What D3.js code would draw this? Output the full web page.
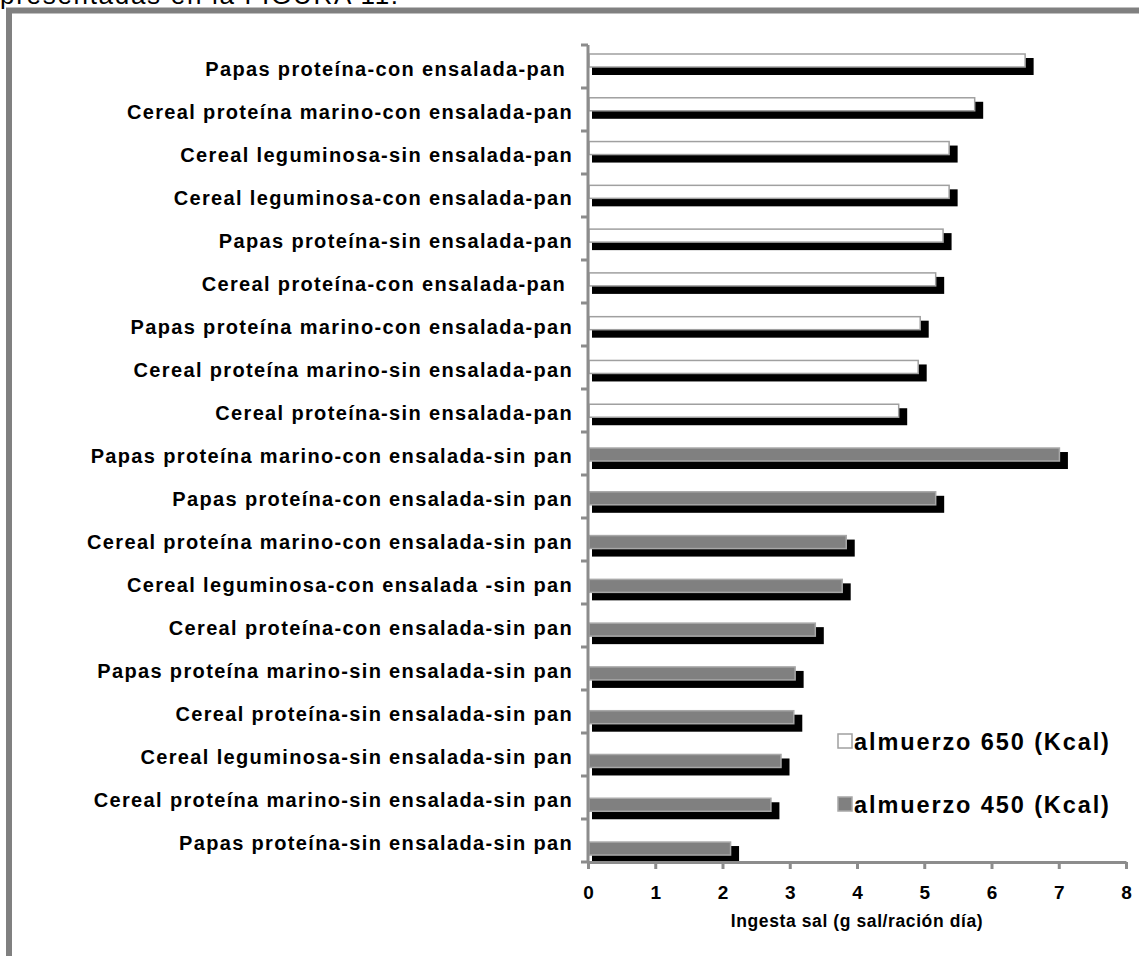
<!DOCTYPE html>
<html><head><meta charset="utf-8">
<script src="https://cdn.jsdelivr.net/npm/d3@7"></script>
<style>
html,body{margin:0;padding:0;background:#fff;overflow:hidden}
svg{display:block;font-family:"Liberation Sans",Arial,sans-serif}
</style></head><body>
<svg id="chart" width="1139" height="956"></svg>
<script>
// Lunch menus, top to bottom
const categories = [
  "Papas proteína-con ensalada-pan ",
  "Cereal proteína marino-con ensalada-pan",
  "Cereal leguminosa-sin ensalada-pan",
  "Cereal leguminosa-con ensalada-pan",
  "Papas proteína-sin ensalada-pan",
  "Cereal proteína-con ensalada-pan ",
  "Papas proteína marino-con ensalada-pan",
  "Cereal proteína marino-sin ensalada-pan",
  "Cereal proteína-sin ensalada-pan",
  "Papas proteína marino-con ensalada-sin pan",
  "Papas proteína-con ensalada-sin pan",
  "Cereal proteína marino-con ensalada-sin pan",
  "Cereal leguminosa-con ensalada -sin pan",
  "Cereal proteína-con ensalada-sin pan",
  "Papas proteína marino-sin ensalada-sin pan",
  "Cereal proteína-sin ensalada-sin pan",
  "Cereal leguminosa-sin ensalada-sin pan",
  "Cereal proteína marino-sin ensalada-sin pan",
  "Papas proteína-sin ensalada-sin pan"
];
// Energy of each lunch (kcal)
const lunchKcal = [650,650,650,650,650,650,650,650,650,450,450,450,450,450,450,450,450,450,450];
// Salt intake, g salt per daily ration
const saltIntake = [6.50,5.75,5.37,5.37,5.28,5.17,4.94,4.91,4.62,7.01,5.17,3.84,3.78,3.38,3.08,3.06,2.87,2.72,2.12];
const xTicks = [0,1,2,3,4,5,6,7,8];
const seriesKcal = [650, 450];
const seriesNames = ["almuerzo 650 (Kcal)", "almuerzo 450 (Kcal)"];
const axisTitle = "Ingesta sal (g sal/ración día)";
const caption = "presentadas en la FIGURA 11.";

const svg = d3.select("#chart");
const axisGray = "#8c8c8c";
const fillFor = {650: "#ffffff", 450: "#808080"};
const strokeFor = {650: "#a0a0a0", 450: "#a8a8a8"};

// page text above the figure frame (cut by the top edge)
svg.append("text").attr("x", 0).attr("y", 4)
  .attr("font-size", 26).attr("letter-spacing", 1.7).attr("fill", "#000").text(caption);

// figure frame
svg.append("path")
  .attr("d", "M9,956 L9,10.5 L1139,10.5")
  .attr("fill", "none").attr("stroke", "#808080").attr("stroke-width", 6);

const x = d3.scaleLinear().domain([0, 8]).range([588, 1126]);
const yAxisBand = d3.scaleBand().domain(categories).range([45, 862]);
const barBand = d3.scaleBand().domain(categories).range([54, 54 + 19 * 43.78]);
const barH = 13;

const g = svg.append("g");

// shadows
g.selectAll("rect.shadow").data(categories).join("rect")
  .attr("class", "shadow")
  .attr("x", x(0) + 4)
  .attr("y", c => barBand(c) + 4)
  .attr("width", (c, i) => x(saltIntake[i]) - x(0) + 4.5)
  .attr("height", barH + 4)
  .attr("fill", "#000");

// bars
g.selectAll("rect.bar").data(categories).join("rect")
  .attr("class", "bar")
  .attr("x", x(0) + 1)
  .attr("y", c => barBand(c))
  .attr("width", (c, i) => x(saltIntake[i]) - x(0) - 1)
  .attr("height", barH)
  .attr("fill", (c, i) => fillFor[lunchKcal[i]])
  .attr("stroke", (c, i) => strokeFor[lunchKcal[i]])
  .attr("stroke-width", 1.5);

// vertical axis with ticks at category boundaries
const yEdges = categories.map(c => yAxisBand(c)).concat([yAxisBand.range()[1]]);
g.append("line").attr("x1", x(0)).attr("x2", x(0))
  .attr("y1", yEdges[0]).attr("y2", yEdges[yEdges.length - 1])
  .attr("stroke", axisGray).attr("stroke-width", 3);
g.selectAll("line.ytick").data(yEdges).join("line")
  .attr("class", "ytick")
  .attr("x1", x(0) - 7).attr("x2", x(0))
  .attr("y1", d => d).attr("y2", d => d)
  .attr("stroke", axisGray).attr("stroke-width", 3);

// category labels
g.selectAll("text.cat").data(categories).join("text")
  .attr("class", "cat")
  .attr("x", 573)
  .attr("y", c => yAxisBand(c) + yAxisBand.bandwidth() / 2 + 2)
  .attr("text-anchor", "end")
  .attr("dominant-baseline", "central")
  .attr("font-size", 20).attr("font-weight", "bold")
  .attr("letter-spacing", 1.35)
  .style("white-space", "pre")
  .text(c => c);

// horizontal axis
const xAxis = d3.axisBottom(x).tickValues(xTicks).tickSize(7).tickSizeOuter(0).tickPadding(17);
const xa = g.append("g").attr("transform", `translate(0,${yEdges[yEdges.length - 1]})`).call(xAxis);
xa.select(".domain").attr("stroke", axisGray).attr("stroke-width", 3);
xa.selectAll(".tick line").attr("stroke", axisGray).attr("stroke-width", 3);
xa.selectAll(".tick text").attr("font-size", 19).attr("font-weight", "bold")
  .attr("font-family", "Liberation Sans, Arial, sans-serif").attr("fill", "#000");

g.append("text").attr("x", (x(0) + x(8)) / 2).attr("y", 921)
  .attr("text-anchor", "middle").attr("dominant-baseline", "central")
  .attr("font-size", 17.5).attr("font-weight", "bold").attr("letter-spacing", 0.6)
  .text(axisTitle);

// legend
const legend = g.selectAll("g.leg").data(seriesKcal).join("g")
  .attr("class", "leg")
  .attr("transform", (d, i) => `translate(838,${741 + i * 63})`);
legend.append("rect").attr("x", 0).attr("y", -7).attr("width", 14).attr("height", 14)
  .attr("fill", d => fillFor[d]).attr("stroke", d => strokeFor[d]).attr("stroke-width", 1.5);
legend.append("text").attr("x", 16).attr("y", 1)
  .attr("dominant-baseline", "central")
  .attr("font-size", 23.5).attr("font-weight", "bold").attr("letter-spacing", 1.9)
  .text((d, i) => seriesNames[i]);
</script>
</body></html>
